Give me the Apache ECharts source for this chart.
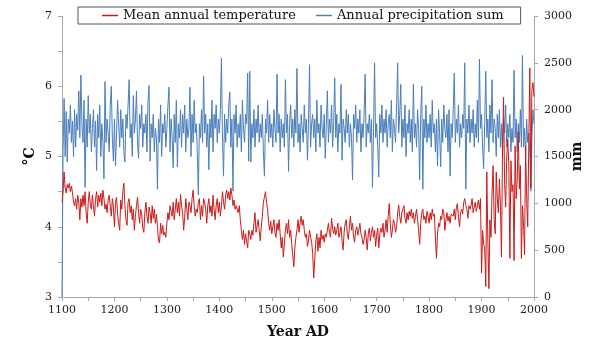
<!DOCTYPE html>
<html>
<head>
<meta charset="utf-8">
<script src="https://cdn.jsdelivr.net/npm/echarts@6/dist/echarts.min.js"></script>
<style>
  html, body { margin: 0; padding: 0; background: #fff; }
  #chart { width: 596px; height: 340px; }
</style>
</head>
<body>
<div id="chart"></div>
<script>
// one value every STEP years, starting at FIRST_YEAR
const FIRST_YEAR = 1100;
const STEP = 2;

// mean annual temperature, °C
const temperature = [
  4.35, 4.50, 4.78, 4.55, 4.48, 4.60, 4.55, 4.62, 4.50, 4.58, // 1100
  4.48, 4.35, 4.30, 4.40, 4.25, 4.45, 4.35, 4.10, 4.40, 4.28, // 1120
  4.45, 4.30, 4.50, 4.20, 4.05, 4.35, 4.50, 4.32, 4.25, 4.45, // 1140
  4.30, 4.15, 4.40, 4.50, 4.28, 4.45, 4.35, 4.48, 4.30, 4.52, // 1160
  4.40, 4.25, 4.32, 4.20, 4.38, 4.45, 4.30, 4.15, 4.40, 4.28, // 1180
  4.00, 4.35, 4.42, 4.18, 4.05, 3.95, 4.38, 4.25, 4.50, 4.62, // 1200
  4.30, 4.10, 4.02, 4.35, 4.40, 4.20, 4.30, 4.10, 4.25, 3.95, // 1220
  4.15, 4.30, 4.42, 4.20, 4.05, 4.25, 4.18, 3.98, 3.92, 4.20, // 1240
  4.35, 4.15, 4.05, 4.28, 4.20, 4.05, 4.30, 4.12, 4.25, 4.05, // 1260
  4.18, 4.00, 3.80, 3.77, 4.05, 3.90, 4.02, 3.88, 3.92, 3.85, // 1280
  4.05, 4.20, 4.10, 4.30, 4.22, 4.15, 4.35, 4.10, 4.25, 4.40, // 1300
  4.20, 4.35, 4.15, 4.46, 4.30, 4.20, 3.95, 4.15, 4.40, 4.25, // 1320
  4.10, 4.35, 4.30, 4.20, 4.40, 4.52, 4.30, 4.15, 4.25, 4.20, // 1340
  4.35, 4.40, 4.10, 4.30, 4.15, 4.40, 4.35, 4.25, 4.05, 4.30, // 1360
  4.40, 4.20, 4.30, 4.15, 4.45, 4.25, 4.10, 4.30, 4.40, 4.20, // 1380
  4.35, 4.15, 4.30, 4.50, 4.35, 4.25, 4.45, 4.52, 4.40, 4.50, // 1400
  4.38, 4.55, 4.45, 4.30, 4.38, 4.25, 4.30, 4.32, 4.20, 4.30, // 1420
  4.10, 3.95, 3.82, 3.95, 3.75, 3.90, 3.80, 3.70, 3.95, 3.90, // 1440
  3.82, 3.95, 3.88, 4.05, 4.20, 3.92, 3.90, 4.10, 3.95, 3.80, // 1460
  4.00, 4.15, 4.35, 4.42, 4.50, 4.35, 4.25, 4.05, 3.95, 4.08, // 1480
  3.90, 4.00, 4.10, 3.92, 3.85, 4.05, 3.95, 4.10, 3.90, 3.70, // 1500
  3.85, 3.57, 3.75, 3.95, 4.05, 3.90, 4.10, 3.85, 3.95, 3.75, // 1520
  3.60, 3.43, 3.70, 3.85, 3.95, 4.10, 3.92, 4.05, 4.15, 4.02, // 1540
  4.10, 3.95, 3.85, 3.90, 3.72, 3.80, 3.95, 3.85, 3.78, 3.62, // 1560
  3.27, 3.55, 3.80, 3.90, 3.65, 3.85, 3.70, 3.95, 3.82, 3.88, // 1580
  3.78, 3.90, 3.85, 3.95, 4.05, 3.92, 3.85, 4.12, 3.98, 3.90, // 1600
  4.00, 3.88, 3.95, 4.05, 3.85, 3.92, 4.00, 3.80, 3.67, 3.92, // 1620
  4.05, 4.10, 3.90, 3.82, 4.00, 4.15, 3.95, 4.05, 3.85, 3.78, // 1640
  3.95, 4.00, 3.88, 3.95, 4.05, 3.90, 3.85, 3.75, 3.82, 3.95, // 1660
  3.85, 3.67, 3.90, 3.98, 3.80, 3.92, 4.00, 3.85, 3.95, 3.72, // 1680
  3.88, 3.98, 3.70, 3.90, 3.98, 3.92, 4.05, 3.85, 3.95, 4.10, // 1700
  3.92, 4.15, 4.33, 4.05, 3.85, 3.95, 4.10, 4.05, 3.92, 4.00, // 1720
  4.20, 4.31, 4.15, 4.05, 4.20, 4.25, 4.30, 4.12, 4.05, 4.20, // 1740
  4.10, 4.22, 4.15, 4.25, 4.12, 4.20, 4.05, 4.15, 4.25, 4.10, // 1760
  3.95, 3.75, 4.05, 4.20, 4.25, 4.10, 4.15, 4.05, 4.22, 4.15, // 1780
  4.05, 4.20, 4.10, 4.25, 4.15, 4.18, 3.85, 3.55, 3.90, 4.05, // 1800
  4.00, 4.15, 4.10, 4.25, 4.20, 3.95, 4.10, 4.20, 4.08, 4.15, // 1820
  4.05, 4.18, 4.20, 4.15, 4.25, 4.10, 4.28, 4.33, 4.15, 4.00, // 1840
  4.20, 4.25, 4.18, 4.35, 4.40, 4.30, 4.25, 4.12, 4.30, 4.25, // 1860
  4.30, 4.40, 4.20, 4.28, 4.35, 4.22, 4.30, 4.38, 4.25, 4.40, // 1880
  3.34, 3.95, 3.75, 3.70, 3.15, 4.78, 3.81, 3.12, 4.10, 3.85, // 1900
  4.48, 4.87, 4.10, 3.90, 4.78, 4.40, 4.20, 4.68, 4.30, 3.57, // 1920
  5.15, 5.84, 4.60, 4.28, 5.00, 5.25, 4.87, 3.55, 4.94, 4.50, // 1940
  4.60, 3.52, 5.15, 4.40, 4.68, 5.35, 4.54, 4.87, 3.55, 4.30, // 1960
  4.05, 3.60, 5.15, 4.40, 4.00, 5.15, 6.26, 4.55, 5.95, 6.05, // 1980
  5.85                                                        // 2000
];

// annual precipitation sum, mm
const precipitation = [
  0, 1550, 2120, 1500, 1980, 1440, 1900, 1750, 2050, 1650,    // 1100
  1880, 1500, 2000, 1600, 1950, 1780, 2200, 1700, 2370, 1850, // 1120
  1650, 2100, 1170, 1900, 1600, 2150, 1750, 1950, 1550, 1800, // 1140
  2000, 1600, 1880, 1350, 1950, 1700, 2050, 1500, 1850, 1650, // 1160
  1260, 2300, 1650, 1900, 1750, 1550, 2050, 2250, 1700, 1450, // 1180
  1900, 1400, 1750, 2100, 1850, 1600, 2000, 1700, 1900, 1550, // 1200
  1440, 1950, 1800, 2050, 2320, 1700, 1850, 1500, 2150, 1750, // 1220
  1900, 2200, 1650, 1480, 1950, 1800, 2050, 1600, 1850, 1750, // 1240
  1950, 1550, 2100, 2260, 1450, 1850, 1700, 1950, 1550, 1800, // 1260
  1700, 1150, 1900, 1650, 2050, 1500, 1850, 1750, 1950, 1600, // 1280
  1800, 2050, 2240, 1550, 1900, 1700, 1380, 1950, 1650, 2100, // 1300
  1390, 1850, 1700, 2000, 1600, 1950, 1750, 2050, 1550, 1900, // 1320
  1700, 1800, 2240, 1500, 1950, 1650, 2100, 1750, 1850, 1550, // 1340
  1090, 1850, 1700, 2000, 1650, 2360, 1750, 1950, 1600, 1850, // 1360
  1360, 1900, 1700, 2100, 1550, 1950, 1800, 2050, 1650, 1900, // 1380
  1750, 2000, 2550, 1700, 1290, 1950, 1650, 1900, 1750, 2050, // 1400
  2190, 1600, 1900, 1130, 1950, 1750, 2050, 1600, 1850, 1700, // 1420
  1950, 1550, 2100, 1800, 1650, 1950, 1850, 2390, 1450, 2410, // 1440
  1440, 1850, 1700, 2000, 1600, 1900, 1750, 2050, 1650, 1850, // 1460
  1700, 1950, 1550, 1290, 1900, 1750, 2100, 1650, 1950, 1700, // 1480
  1850, 1600, 2000, 1800, 1650, 2380, 1750, 1950, 1550, 1900, // 1500
  1700, 1850, 1600, 2320, 1750, 1950, 1340, 1850, 2050, 1700, // 1520
  1900, 1600, 2000, 1750, 2440, 1650, 1850, 1550, 1950, 1800, // 1540
  1650, 2050, 1750, 1900, 1460, 1850, 2480, 1600, 1850, 1950, // 1560
  1700, 1900, 1550, 2100, 1750, 1850, 1600, 2050, 1800, 1700, // 1580
  1950, 1480, 1850, 2200, 1650, 1900, 1750, 2050, 1600, 1850, // 1600
  2340, 1700, 1950, 1550, 1850, 1750, 2270, 1460, 1900, 1800, // 1620
  1650, 2000, 1750, 1950, 1600, 1850, 1700, 1250, 1950, 1800, // 1640
  2050, 1650, 1900, 1750, 2000, 1550, 1850, 1700, 1950, 2380, // 1660
  1600, 1850, 1750, 1950, 1650, 1900, 1170, 1800, 2500, 1700, // 1680
  1850, 1600, 1280, 1950, 1750, 2050, 1650, 1900, 1750, 2000, // 1700
  1600, 1850, 1950, 1700, 2100, 1550, 1900, 1800, 1650, 2050, // 1720
  2500, 1750, 1950, 2270, 1600, 1900, 1700, 2050, 1500, 1850, // 1740
  1750, 2000, 1650, 1900, 1550, 2270, 1700, 1850, 1600, 2000, // 1760
  1800, 1250, 1950, 2250, 1150, 1900, 1700, 2050, 1650, 1850, // 1780
  1700, 1950, 1600, 2100, 1750, 1850, 1550, 1900, 1400, 2000, // 1800
  1750, 1390, 1900, 1650, 2050, 1800, 1700, 1950, 1550, 2000, // 1820
  1290, 1850, 1700, 2000, 2390, 1650, 1900, 1750, 2050, 1600, // 1840
  1850, 1700, 1950, 1800, 2500, 1150, 1900, 1750, 2050, 1650, // 1860
  1900, 1750, 2000, 1600, 1850, 1700, 2100, 1650, 2540, 1800, // 1880
  1950, 1600, 1370, 1850, 2410, 1700, 1900, 1550, 2050, 1750, // 1900
  2320, 1650, 1900, 1800, 1500, 1950, 1700, 2000, 1600, 1850, // 1920
  1500, 1900, 1750, 2050, 1600, 1850, 1700, 1950, 1550, 1800, // 1940
  1650, 2420, 1700, 1900, 1550, 1850, 1650, 2000, 1600, 2580, // 1960
  1600, 1800, 1500, 1900, 1650, 1750, 1550, 1130, 1700, 2000, // 1980
  1850                                                        // 2000
];

const NAME_T = 'Mean annual temperature';
const NAME_P = 'Annual precipitation sum';
const FONT = 'DejaVu Serif';

const years = temperature.map((_, i) => FIRST_YEAR + i * STEP);
const pairs = (vals) => vals.map((v, i) => [years[i], v]);

const AXIS_LINE = { lineStyle: { color: '#a8a8a8', width: 1 } };
const TICK = { show: true, length: 4, lineStyle: { color: '#a8a8a8' } };
const LABEL = { color: '#222', fontSize: 11, fontFamily: FONT };
const NAME_STYLE = { color: '#111', fontSize: 14, fontWeight: 'bold', fontFamily: FONT };

const chart = echarts.init(document.getElementById('chart'));
chart.setOption({
  animation: false,
  backgroundColor: '#fff',
  textStyle: { fontFamily: FONT },
  grid: { left: 62, right: 62, top: 16, bottom: 43, containLabel: false, outerBoundsMode: 'none' },
  legend: {
    data: [NAME_T, NAME_P],
    top: 7, left: 78,
    icon: 'rect', itemWidth: 16, itemHeight: 1.5, itemGap: 20,
    padding: [2, 17, 2, 24],
    borderColor: '#555', borderWidth: 1,
    textStyle: { color: '#111', fontSize: 13, fontFamily: FONT }
  },
  xAxis: {
    type: 'value', min: 1100, max: 2000, interval: 50,
    axisLine: AXIS_LINE, axisTick: TICK,
    axisLabel: { ...LABEL, margin: 8, formatter: (v) => (v % 100 === 0 ? String(v) : '') },
    splitLine: { show: false },
    name: 'Year AD', nameLocation: 'middle', nameGap: 28, nameMoveOverlap: false,
    nameTextStyle: NAME_STYLE
  },
  yAxis: [
    {
      type: 'value', min: 3, max: 7, interval: 0.5, position: 'left',
      axisLine: { show: true, ...AXIS_LINE }, axisTick: TICK,
      axisLabel: { ...LABEL, margin: 10, formatter: (v) => (Number.isInteger(v) ? String(v) : '') },
      splitLine: { show: false },
      name: '°C', nameLocation: 'middle', nameGap: 25, nameRotate: 90, nameMoveOverlap: false,
      nameTextStyle: NAME_STYLE
    },
    {
      type: 'value', min: 0, max: 3000, interval: 500, position: 'right',
      axisLine: { show: true, ...AXIS_LINE }, axisTick: TICK,
      axisLabel: { ...LABEL, margin: 10, formatter: (v) => String(v) },
      splitLine: { show: false },
      name: 'mm', nameLocation: 'middle', nameGap: 36, nameRotate: 90, nameMoveOverlap: false,
      nameTextStyle: NAME_STYLE
    }
  ],
  series: [
    {
      name: NAME_P, type: 'line', yAxisIndex: 1, symbol: 'none',
      data: pairs(precipitation),
      lineStyle: { color: '#4a7ebb', width: 1 }, itemStyle: { color: '#4a7ebb' }
    },
    {
      name: NAME_T, type: 'line', yAxisIndex: 0, symbol: 'none',
      data: pairs(temperature),
      lineStyle: { color: '#cc1a1a', width: 1 }, itemStyle: { color: '#cc1a1a' }
    }
  ]
});
</script>
</body>
</html>
